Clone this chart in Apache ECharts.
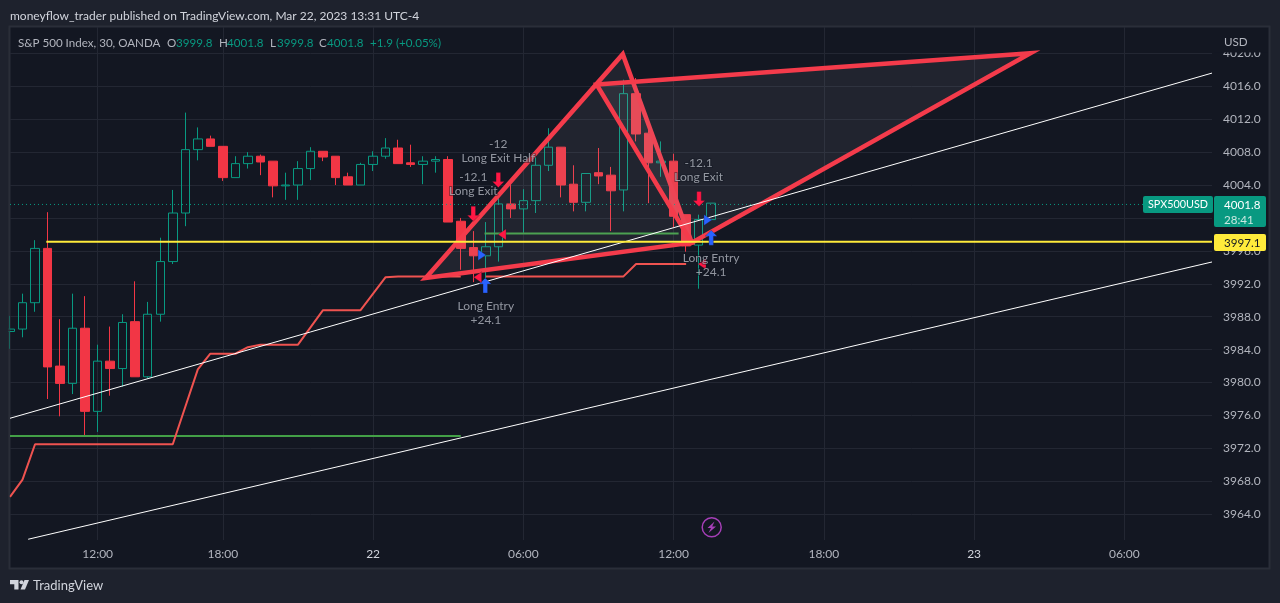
<!DOCTYPE html>
<html>
<head>
<meta charset="utf-8">
<title>SPX500USD</title>
<script src="https://cdn.jsdelivr.net/npm/echarts@6/dist/echarts.min.js"></script>
<style>
html, body { margin: 0; padding: 0; background: #1e222d; }
#main { width: 1280px; height: 603px; }
</style>
</head>
<body>
<div id="main"></div>
<script>
// bar times, 30 minute bars, session break after 16:30
var barTimes = [
    '08:30','09:00','09:30','10:00','10:30','11:00','11:30','12:00','12:30','13:00','13:30','14:00','14:30','15:00','15:30','16:00','16:30',
    '18:00','18:30','19:00','19:30','20:00','20:30','21:00','21:30','22:00','22:30','23:00','23:30',
    '22','00:30','01:00','01:30','02:00','02:30','03:00','03:30','04:00','04:30','05:00','05:30',
    '06:00','06:30','07:00','07:30','08:00','08:30','09:00','09:30','10:00','10:30','11:00','11:30',
    '12:00','12:30','13:00','13:30','14:00','14:30','15:00','15:30','16:00','16:30','17:00','17:30',
    '18:00','18:30','19:00','19:30','20:00','20:30','21:00','21:30','22:00','22:30','23:00','23:30',
    '23','00:30','01:00','01:30','02:00','02:30','03:00','03:30','04:00','04:30','05:00','05:30',
    '06:00','06:30','07:00','07:30','08:00','08:30','09:00','09:30'
];
var timeTicks = [7, 17, 29, 41, 53, 65, 77, 89];
var priceTicks = [3964, 3968, 3972, 3976, 3980, 3984, 3988, 3992, 3996, 4000, 4004, 4008, 4012, 4016, 4020];

var opens = [3986.2,3986.5,3989.7,3996.3,3982.0,3979.9,3986.6,3976.5,3982.6,3981.7,3987.4,3980.7,3988.3,3994.7,4000.6,4008.3,4009.6,4008.7,4004.9,4006.6,4007.5,4006.9,4003.9,4004.0,4006.0,4008.1,4007.5,4005.0,4004.0,4006.5,4007.5,4008.5,4006.7,4006.5,4006.9,4007.1,3999.6,3996.4,3995.4,3996.5,4001.7,4001.1,4002.1,4006.4,4008.6,4004.1,4001.9,4005.5,4005.2,4003.4,4015.1,4010.3,4006.7,4006.9,4000.4,3996.7,3999.8];
var closes = [3986.5,3989.7,3996.3,3981.9,3979.9,3986.6,3976.5,3982.6,3981.7,3987.3,3980.7,3988.3,3994.7,4000.6,4008.3,4009.6,4008.7,4004.9,4006.6,4007.5,4006.8,4003.9,4004.0,4006.0,4008.1,4007.4,4004.9,4004.0,4006.5,4007.5,4008.5,4006.6,4006.5,4006.9,4007.1,3999.5,3996.3,3995.4,3996.5,4001.7,4001.1,4002.1,4006.4,4008.6,4004.0,4001.9,4005.4,4005.1,4003.3,4015.1,4010.2,4006.7,4006.9,4000.2,3996.6,3999.8,4001.8];
var lows = [3984.1,3985.5,3988.6,3978.0,3975.9,3978.6,3973.4,3974.0,3978.4,3979.5,3980.7,3980.5,3987.4,3994.4,3999.0,4007.0,4008.7,4004.5,4004.9,4006.0,4005.2,4002.5,4002.2,4002.2,4004.6,4006.9,4004.0,4004.0,4004.0,4005.7,4007.2,4006.6,4006.2,4004.1,4005.5,3999.5,3993.7,3992.2,3992.7,3994.7,4000.0,3998.2,4000.6,4005.7,4002.5,4000.8,4000.8,4004.1,3998.4,4000.8,4009.3,4001.8,4005.0,3998.9,3995.9,3991.4,3999.8];
var highs = [3988.1,3990.8,3997.3,4000.7,3987.7,3990.8,3990.5,3984.6,3986.8,3988.3,3992.3,3989.8,3997.6,4003.4,4012.8,4011.0,4010.0,4008.7,4007.5,4008.0,4007.7,4006.9,4005.5,4006.9,4008.6,4008.1,4007.5,4005.5,4006.7,4008.1,4009.7,4009.5,4008.9,4007.5,4007.5,4007.5,4000.0,3998.4,3999.5,4002.4,4004.1,4003.5,4007.5,4010.9,4008.6,4006.4,4005.4,4008.5,4006.2,4016.8,4017.0,4011.7,4009.3,4007.8,4000.4,4000.4,4001.8];

// drawn lines, [bar index, price]
var upperChannel = [[0, 3975.66], [96, 4017.6]];
var lowerChannel = [[1.45, 3960.96], [96, 3994.65]];
var yellowLevel = [[2.9, 3997.1], [96, 3997.1]];
var lastPrice = [[0, 4001.64], [90.6, 4001.64]];
var greenLong = [[0, 3973.5], [36, 3973.5]];
var greenShort = [[37.9, 3998.1], [53.4, 3998.1]];
var stopOld = [[0,3966.1],[1,3968.2],[2,3972.5],[13,3972.5],[15,3981.6],[16,3983.5],[18,3983.5],[19,3984.3],[20,3984.6],[23,3984.6],[25,3988.8],[28,3988.8],[30,3992.8],[31,3992.9],[36,3992.9]];
var stopNew = [[38,3992.9],[49,3992.9],[50,3994.4],[54,3994.4]];

// harmonic pattern, two triangles
var triangleOne = [33.2, 3992.7, 48.94, 4019.9, 54.45, 3997.0];
var triangleTwo = [46.86, 4016.2, 81.5, 4020.0, 54.45, 3997.0];

// order markers
var exitArrows = [[37, 4000.5], [39, 4004.6], [55.03, 4002.3]];
var entryArrows = [[37.96, 3991.8], [56, 3997.6]];
var fillRight = [[37.7, 3995.5], [55.74, 3999.75]];
var fillLeft = [[37.35, 3992.8], [39.3, 3998.0], [55.27, 3994.4]];
var tradeLabels = [
    [39, 4008.14, '-12\nLong Exit Half'],
    [37, 4004.1, '-12.1\nLong Exit'],
    [38, 3988.45, 'Long Entry\n+24.1'],
    [55, 4005.8, '-12.1\nLong Exit'],
    [56, 3994.3, 'Long Entry\n+24.1']
];

var candles = [];
for (var i = 0; i < opens.length; i++) {
    candles.push([opens[i], closes[i], lows[i], highs[i]]);
}

var UP = '#089981', DOWN = '#f23645', FONT = 'Lato, sans-serif';
var ARROW = 'path://M4 0L8 6H5.5V15H2.5V6H0Z';
var ARROW_DOWN = 'path://M2.5 0H5.5V9H8L4 15L0 9H2.5Z';

function lineSeries(name, data, color, width, z, type) {
    return {
        name: name,
        type: 'line',
        xAxisIndex: 1,
        data: data,
        showSymbol: false,
        silent: true,
        z: z,
        lineStyle: { color: color, width: width, type: type || 'solid', cap: 'butt' }
    };
}

function markerSeries(data, symbol, size, color, rotate) {
    return {
        type: 'scatter',
        xAxisIndex: 1,
        data: data,
        symbol: symbol,
        symbolSize: size,
        symbolRotate: rotate || 0,
        silent: true,
        z: 12,
        itemStyle: { color: color, opacity: 1, borderColor: 'rgba(19,23,34,0.5)', borderWidth: 0.5 }
    };
}

function headerText(x, y, text, color, size) {
    return {
        type: 'text',
        z: 100,
        x: x,
        y: y + 1,
        style: { text: text, fill: color, font: (size || 11.6) + 'px ' + FONT, textVerticalAlign: 'middle' }
    };
}

function box(x, y, w, h, color) {
    return { type: 'rect', z: 90, shape: { x: x, y: y, width: w, height: h, r: 2 }, style: { fill: color } };
}

var option = {
    animation: false,
    backgroundColor: '#1e222d',
    textStyle: { fontFamily: FONT },
    grid: { left: 10, top: 27, width: 1202, height: 513, show: false },
    xAxis: [
        {
            type: 'category',
            data: barTimes,
            boundaryGap: false,
            axisLine: { show: false },
            axisTick: { show: false },
            axisLabel: {
                color: '#b2b5be',
                fontSize: 12,
                margin: 8,
                interval: function (index) { return timeTicks.indexOf(index) >= 0; },
                formatter: function (v) { return v.length < 3 ? '{d|' + v + '}' : v; },
                rich: { d: { color: '#d1d4dc', fontSize: 12 } }
            },
            splitLine: {
                show: true,
                interval: function (index) { return timeTicks.indexOf(index) >= 0; },
                lineStyle: { color: '#232733', width: 1 }
            }
        },
        { type: 'value', min: 0, max: 96, show: false, splitLine: { show: false } }
    ],
    yAxis: {
        type: 'value',
        position: 'right',
        min: 3960.87,
        max: 4023.2,
        axisLine: { show: false },
        axisTick: { show: false, customValues: priceTicks },
        axisLabel: {
            color: '#b2b5be',
            fontSize: 12,
            margin: 11,
            padding: [2, 0, 0, 0],
            customValues: priceTicks,
            formatter: function (v) { return v.toFixed(1); }
        },
        splitLine: { show: true, lineStyle: { color: '#232733', width: 1 } }
    },
    series: [
        {
            type: 'candlestick',
            data: candles,
            barWidth: 9,
            silent: true,
            z: 3,
            itemStyle: { color: 'transparent', color0: DOWN, borderColor: UP, borderColor0: DOWN, borderWidth: 1 }
        },
        lineSeries('green long', greenLong, '#43a047', 2, 4),
        lineSeries('green short', greenShort, '#43a047', 2, 4),
        lineSeries('stop old', stopOld, '#ef5350', 2, 4),
        lineSeries('stop new', stopNew, '#ef5350', 2, 4),
        lineSeries('last price', lastPrice, UP, 1, 4, [1, 3]),
        {
            type: 'custom',
            xAxisIndex: 1,
            data: [triangleOne, triangleTwo],
            encode: { x: [0, 2, 4], y: [1, 3, 5] },
            silent: true,
            z: 6,
            renderItem: function (params, api) {
                var pts = [];
                for (var k = 0; k < 3; k++) {
                    pts.push(api.coord([api.value(k * 2), api.value(k * 2 + 1)]));
                }
                return {
                    type: 'polygon',
                    shape: { points: pts },
                    style: { fill: 'rgba(178,181,190,0.09)', stroke: '#f43b4b', lineWidth: 4.5, lineJoin: 'miter', miterLimit: 20 }
                };
            }
        },
        lineSeries('channel up', upperChannel, '#ffffff', 1, 8),
        lineSeries('channel down', lowerChannel, '#ffffff', 1, 8),
        lineSeries('yellow', yellowLevel, '#ffeb3b', 2, 9),
        markerSeries(exitArrows, ARROW_DOWN, [12, 15], '#ff1744'),
        markerSeries(entryArrows, ARROW, [12, 15], '#2962ff'),
        markerSeries(fillRight, 'triangle', [11, 8], '#2962ff', -90),
        markerSeries(fillLeft, 'triangle', [11, 8], '#ff1744', 90),
        {
            type: 'scatter',
            xAxisIndex: 1,
            data: tradeLabels,
            symbolSize: 0,
            silent: true,
            z: 14,
            label: {
                show: true,
                position: 'inside',
                color: '#b2b5be',
                fontSize: 12,
                lineHeight: 14,
                align: 'center',
                verticalAlign: 'middle',
                textBorderColor: 'rgba(19,23,34,0.55)',
                textBorderWidth: 2,
                formatter: function (p) { return p.value[2]; }
            }
        }
    ],
    graphic: [
        // pane behind everything
        { type: 'rect', z: -10, shape: { x: 9.5, y: 26.5, width: 1260, height: 542 }, style: { fill: '#131722', stroke: '#2a2e39', lineWidth: 2 } },
        { type: 'rect', z: 90, shape: { x: 1214, y: 28, width: 54, height: 24.5 }, style: { fill: '#131722' } },
        // left edge hides the half candle outside the pane
        { type: 'rect', z: 90, shape: { x: 0, y: 28, width: 8.5, height: 512 }, style: { fill: '#1e222d' } },
        { type: 'rect', z: 90, shape: { x: 8.5, y: 28, width: 1, height: 512 }, style: { fill: '#2a2e39' } },
        headerText(10, 15, 'moneyflow_trader published on TradingView.com, Mar 22, 2023 13:31 UTC-4', '#d1d4dc', 12),
        headerText(18, 42, 'S&P 500 Index, 30, OANDA', '#b2b5be'),
        headerText(167, 42, 'O', '#b2b5be'), headerText(176, 42, '3999.8', UP),
        headerText(219, 42, 'H', '#b2b5be'), headerText(227, 42, '4001.8', UP),
        headerText(270, 42, 'L', '#b2b5be'), headerText(277, 42, '3999.8', UP),
        headerText(319, 42, 'C', '#b2b5be'), headerText(327, 42, '4001.8', UP),
        headerText(370, 42, '+1.9 (+0.05%)', UP),
        headerText(1224, 41, 'USD', '#b2b5be'),
        box(1143, 196, 70, 17, '#089981'),
        headerText(1148, 204, 'SPX500USD', '#ffffff', 10.8),
        box(1214, 196, 52, 31, '#089981'),
        headerText(1224, 204, '4001.8', '#ffffff'),
        headerText(1224, 219, '28:41', '#c9e8e1'),
        box(1214, 234, 52, 17, '#ffeb3b'),
        headerText(1224, 242, '3997.1', '#131722'),
        // bolt event badge
        { type: 'circle', z: 50, shape: { cx: 711.7, cy: 527.3, r: 9.5 }, style: { fill: 'transparent', stroke: '#a63fb8', lineWidth: 1.5 } },
        { type: 'polygon', z: 50, shape: { points: [[714.5, 521.5], [707.5, 528], [711, 528], [708.5, 533], [716, 526.5], [712.2, 526.5]] }, style: { fill: '#a63fb8' } },
        // logo
        { type: 'polygon', z: 50, shape: { points: [[10, 580], [18.5, 580], [18.5, 589.5], [14.3, 589.5], [14.3, 584.2], [10, 584.2]] }, style: { fill: '#d1d4dc' } },
        { type: 'circle', z: 50, shape: { cx: 21.5, cy: 582.2, r: 2 }, style: { fill: '#d1d4dc' } },
        { type: 'polygon', z: 50, shape: { points: [[24.5, 580], [29, 580], [25, 589.5], [20.5, 589.5]] }, style: { fill: '#d1d4dc' } },
        headerText(33, 585, 'TradingView', '#d1d4dc', 13)
    ]
};

var myChart = echarts.init(document.getElementById('main'));
myChart.setOption(option);
window.onresize = myChart.resize;
</script>
</body>
</html>
